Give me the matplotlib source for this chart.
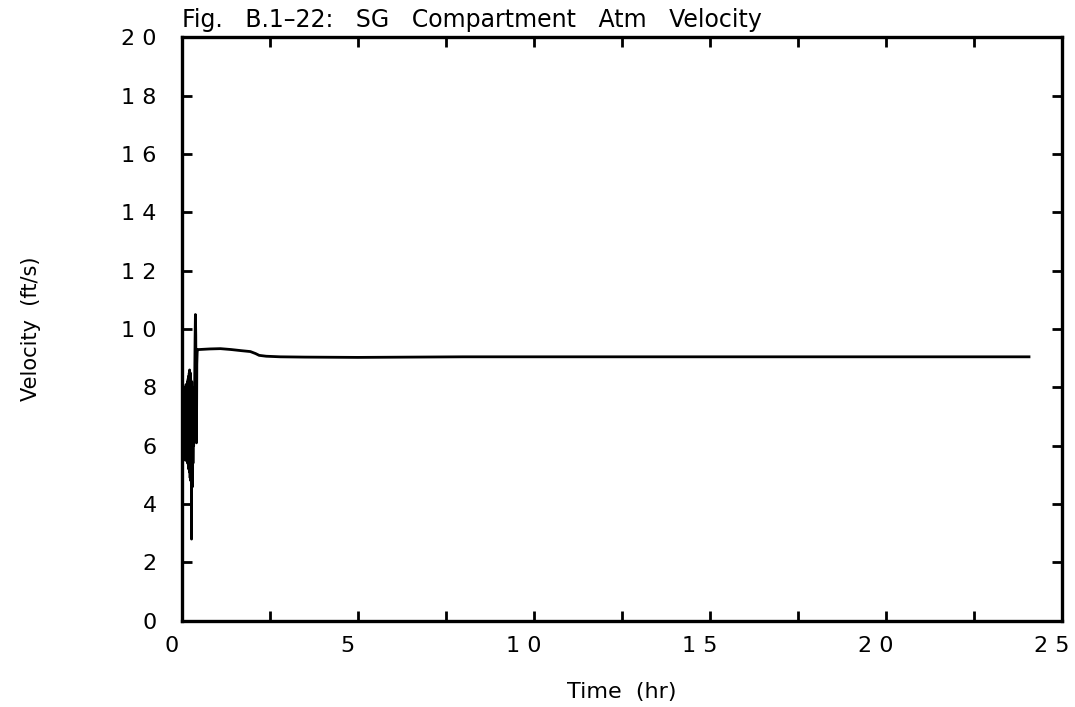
import matplotlib
matplotlib.use("Agg")
import matplotlib.pyplot as plt
from matplotlib.ticker import MultipleLocator, FuncFormatter
from matplotlib.transforms import ScaledTranslation

# early oscillating part (t in hr, velocity in ft/s), read every 0.005 hr
t_early = [0.000, 0.005, 0.010, 0.015, 0.020, 0.025, 0.030, 0.035, 0.040, 0.045,
           0.050, 0.055, 0.060, 0.065, 0.070, 0.075, 0.080, 0.085, 0.090, 0.095,
           0.100, 0.105, 0.110, 0.115, 0.120, 0.125, 0.130, 0.135, 0.140, 0.145,
           0.150, 0.155, 0.160, 0.165, 0.170, 0.175, 0.180, 0.185, 0.190, 0.195,
           0.200, 0.205, 0.210, 0.215, 0.220, 0.225, 0.230, 0.235, 0.240, 0.245,
           0.250, 0.255, 0.260, 0.265, 0.270, 0.275, 0.280, 0.285, 0.290, 0.295,
           0.300, 0.305, 0.310, 0.315, 0.320, 0.330, 0.340, 0.350, 0.360, 0.370,
           0.380, 0.390, 0.400, 0.410, 0.420, 0.430, 0.440, 0.450, 0.460, 0.470]
v_early = [6.2, 7.9, 6.0, 7.7, 5.6, 7.9, 6.1, 7.6, 5.8, 8.0,
           6.3, 7.5, 5.9, 7.8, 6.4, 7.7, 5.7, 8.0, 6.0, 7.6,
           6.2, 7.9, 5.5, 7.7, 6.1, 8.1, 5.8, 7.6, 6.3, 8.0,
           5.6, 7.8, 6.0, 8.2, 5.4, 7.9, 6.2, 8.3, 5.7, 8.0,
           5.2, 8.4, 5.9, 8.5, 5.1, 8.6, 5.6, 8.4, 4.9, 8.5,
           5.3, 8.3, 4.8, 8.1, 5.0, 7.9, 2.8, 8.2, 4.7, 7.8,
           5.2, 8.0, 4.6, 7.6, 5.4, 7.8, 6.0, 7.5, 6.6, 8.2,
           9.6, 10.5, 9.8, 7.0, 6.1, 8.8, 9.2, 9.3, 9.3, 9.3]

# smooth part
t_late = [0.5, 0.8, 1.1, 1.4, 1.7, 1.95, 2.1, 2.2, 2.4, 2.8, 3.5, 5.0, 8.0, 12.0, 16.0, 20.0, 24.06]
v_late = [9.3, 9.32, 9.33, 9.3, 9.26, 9.23, 9.16, 9.1, 9.07, 9.05, 9.04, 9.03, 9.05, 9.05, 9.05, 9.05, 9.05]

time = t_early + t_late
vel = v_early + v_late

fig = plt.figure(figsize=(10.75, 7.07), dpi=100)
ax = fig.add_axes([0.169, 0.122, 0.819, 0.825])
ax.plot(time, vel, color='black', lw=2.0)

ax.set_xlim(0, 25)
ax.set_ylim(0, 20)
ax.xaxis.set_major_locator(MultipleLocator(5))
ax.xaxis.set_minor_locator(MultipleLocator(2.5))
ax.yaxis.set_major_locator(MultipleLocator(2))

def spaced(x, pos):
    return ' '.join(str(int(round(x))))

ax.xaxis.set_major_formatter(FuncFormatter(spaced))
ax.yaxis.set_major_formatter(FuncFormatter(spaced))

ax.tick_params(which='both', direction='in', top=True, right=True,
               length=7, width=2, labelsize=16)
ax.tick_params(axis='y', pad=18)
ax.tick_params(axis='x', pad=11)
for s in ax.spines.values():
    s.set_linewidth(2.4)

# x tick labels sit a bit left of their ticks in the original
shift = ScaledTranslation(-10 / 100, 0, fig.dpi_scale_trans)
for lbl in ax.get_xticklabels():
    lbl.set_transform(lbl.get_transform() + shift)

ax.set_xlabel('Time  (hr)', fontsize=16, labelpad=19)
ax.set_ylabel('Velocity  (ft/s)', fontsize=15, labelpad=58)
ax.text(0.0, 1.01, 'Fig.   B.1\u201322:   SG   Compartment   Atm   Velocity',
        transform=ax.transAxes, ha='left', va='bottom', fontsize=17)

fig.savefig('out.png', dpi=100)
